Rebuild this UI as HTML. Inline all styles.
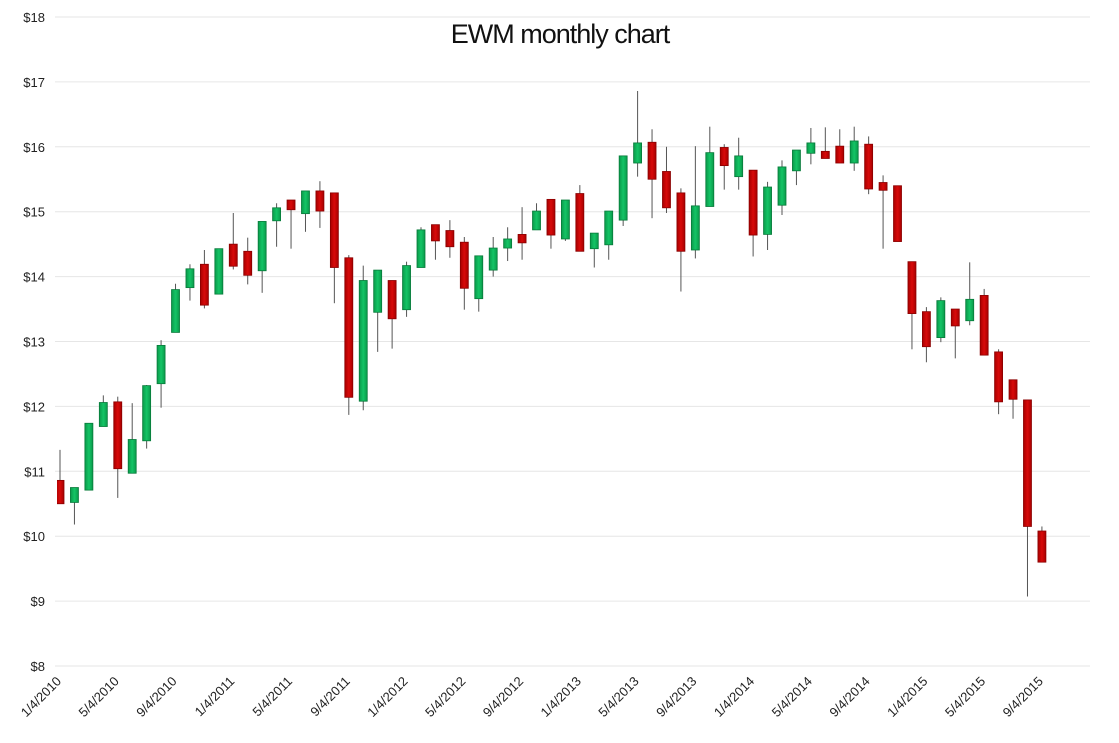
<!DOCTYPE html>
<html><head><meta charset="utf-8"><style>
body{margin:0;background:#fff;}
svg{display:block;font-family:"Liberation Sans",sans-serif;}
</style></head><body>
<svg id="chart" width="1119" height="743">
<defs>
<linearGradient id="gUp" x1="0" x2="1"><stop offset="0" stop-color="#0a9a4a"/><stop offset="0.5" stop-color="#14c466"/><stop offset="1" stop-color="#0a9a4a"/></linearGradient>
<linearGradient id="gDn" x1="0" x2="1"><stop offset="0" stop-color="#a80000"/><stop offset="0.5" stop-color="#d80a0a"/><stop offset="1" stop-color="#a80000"/></linearGradient>
<clipPath id="plotClip"><rect x="57" y="0" width="1040" height="743"/></clipPath>
</defs>
<text x="560" y="43" text-anchor="middle" font-size="27" fill="#111" letter-spacing="-1">EWM monthly chart</text>
<g id="grid"></g><g id="yAxis"></g><g id="xAxis"></g><g id="candles" clip-path="url(#plotClip)"></g>
</svg>
<script>
const opens  =[10.86,10.52,10.71,11.69,12.07,10.97,11.47,12.35,13.14,13.83,14.19,13.73,14.50,14.39,14.09,14.86,15.18,14.97,15.32,15.29,14.29,12.08,13.45,13.94,13.49,14.14,14.80,14.71,14.53,13.66,14.10,14.44,14.65,14.72,15.19,14.58,15.28,14.43,14.49,14.87,15.75,16.07,15.62,15.29,14.41,15.08,15.99,15.54,15.64,14.65,15.10,15.63,15.90,15.93,16.01,15.75,16.04,15.45,15.40,14.23,13.46,13.06,13.50,13.32,13.71,12.84,12.41,12.10,10.08];
const closes =[10.50,10.75,11.74,12.06,11.04,11.49,12.32,12.94,13.80,14.12,13.56,14.43,14.16,14.02,14.85,15.06,15.03,15.32,15.01,14.14,12.14,13.94,14.10,13.35,14.17,14.72,14.55,14.46,13.82,14.32,14.44,14.58,14.52,15.01,14.64,15.18,14.39,14.67,15.01,15.86,16.06,15.50,15.06,14.39,15.09,15.91,15.71,15.86,14.64,15.38,15.69,15.95,16.06,15.82,15.75,16.09,15.35,15.33,14.54,13.43,12.92,13.63,13.24,13.65,12.79,12.07,12.11,10.15,9.60];
const highs  =[11.33,10.75,11.74,12.17,12.15,12.05,12.33,13.02,13.89,14.19,14.41,14.43,14.98,14.60,14.85,15.13,15.18,15.32,15.47,15.29,14.33,14.17,14.10,13.94,14.23,14.76,14.80,14.87,14.61,14.32,14.61,14.76,15.07,15.13,15.19,15.18,15.41,14.67,15.01,15.86,16.86,16.27,16.00,15.36,16.01,16.31,16.04,16.14,15.64,15.46,15.79,15.95,16.29,16.30,16.27,16.31,16.16,15.56,15.40,14.23,13.53,13.68,13.50,14.22,13.81,12.88,12.41,12.10,10.15];
const lows   =[10.50,10.18,10.71,11.69,10.59,10.97,11.35,11.98,13.14,13.63,13.51,13.73,14.11,13.88,13.75,14.46,14.43,14.69,14.75,13.59,11.87,11.94,12.84,12.89,13.38,14.14,14.26,14.29,13.49,13.46,14.00,14.24,14.26,14.72,14.43,14.55,14.39,14.14,14.26,14.78,15.54,14.90,14.98,13.77,14.28,15.08,15.34,15.34,14.31,14.41,14.95,15.41,15.73,15.82,15.75,15.63,15.27,14.43,14.54,12.88,12.68,12.99,12.74,13.25,12.79,11.88,11.81,9.07,9.60];
const monthLabels=["1/4/2010","5/4/2010","9/4/2010","1/4/2011","5/4/2011","9/4/2011","1/4/2012","5/4/2012","9/4/2012","1/4/2013","5/4/2013","9/4/2013","1/4/2014","5/4/2014","9/4/2014","1/4/2015","5/4/2015","9/4/2015"];
const yTicks=[8,9,10,11,12,13,14,15,16,17,18];

const NS="http://www.w3.org/2000/svg";
const yMin=8,yMax=18,yTop=17,yBot=666;
const y=v=>yBot-(v-yMin)/(yMax-yMin)*(yBot-yTop);
const x0=60,step=14.44;
const x=i=>x0+i*step;
function mk(tag,attrs,parent){const e=document.createElementNS(NS,tag);for(const k in attrs)e.setAttribute(k,attrs[k]);parent.appendChild(e);return e;}
const grid=document.getElementById('grid'),ya=document.getElementById('yAxis'),xa=document.getElementById('xAxis'),cg=document.getElementById('candles');
yTicks.forEach(t=>{
  const l=mk('line',{x1:55,x2:1090,y1:y(t),y2:y(t),stroke:'#e6e6e6','stroke-width':1},grid);
  
  
  const tx=mk('text',{x:45,y:y(t)+5,'text-anchor':'end','font-size':13,fill:'#222'},ya);
  tx.textContent='$'+t;
  
  
});
monthLabels.forEach((m,k)=>{
  const cx=x(k*4)+2,cy=682;
  const tx=mk('text',{x:cx,y:cy,'text-anchor':'end','font-size':13,fill:'#222',transform:`rotate(-45 ${cx} ${cy})`},xa);
  tx.textContent=m;
  
  
});
const bw=8;
opens.forEach((o,i)=>{
  const c=closes[i],up=c>=o,cx=x(i);
  const g=mk('g',{},cg);
  
  
  mk('line',{x1:cx,x2:cx,y1:y(highs[i]),y2:y(lows[i]),stroke:'#555','stroke-width':1},g);
  const t=y(Math.max(o,c)),b=y(Math.min(o,c));
  mk('rect',{x:cx-bw/2,y:t,width:bw,height:Math.max(1,b-t),fill:up?'url(#gUp)':'url(#gDn)',stroke:up?'#077a3a':'#8a0000','stroke-width':0.8},g);
});
</script>
</body></html>
